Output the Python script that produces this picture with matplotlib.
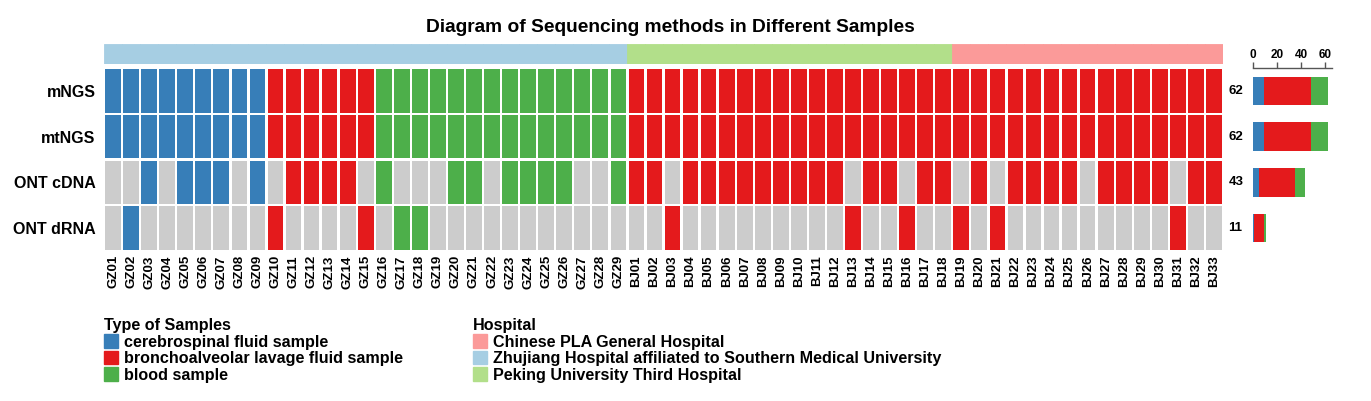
import numpy as np
import matplotlib.pyplot as plt
from matplotlib.patches import Patch

plt.rcParams['font.family'] = ['Liberation Sans', 'DejaVu Sans']
plt.rcParams['font.weight'] = 'bold'

# ---- data ----
samples = [f'GZ{i:02d}' for i in range(1, 30)] + [f'BJ{i:02d}' for i in range(1, 34)]
sample_type = ['csf'] * 9 + ['balf'] * 6 + ['blood'] * 14 + ['balf'] * 33
hospital = ['zhujiang'] * 29 + ['peking'] * 18 + ['pla'] * 15

methods = ['mNGS', 'mtNGS', 'ONT cDNA', 'ONT dRNA']
mngs = [1] * 62
mtngs = [1] * 62
ont_cdna = [0, 0, 1, 0, 1, 1, 1, 0, 1, 0, 1, 1, 1, 1, 0, 1, 0, 0, 0, 1,
            1, 0, 1, 1, 1, 1, 0, 0, 1,
            1, 1, 0, 1, 1, 1, 1, 1, 1, 1, 1, 1, 0, 1, 1, 0, 1, 1, 0, 1,
            0, 1, 1, 1, 1, 0, 1, 1, 1, 1, 0, 1, 1]
ont_drna = [0, 1, 0, 0, 0, 0, 0, 0, 0, 1, 0, 0, 0, 0, 1, 0, 1, 1, 0, 0,
            0, 0, 0, 0, 0, 0, 0, 0, 0,
            0, 0, 1, 0, 0, 0, 0, 0, 0, 0, 0, 0, 1, 0, 0, 1, 0, 0, 1, 0,
            1, 0, 0, 0, 0, 0, 0, 0, 0, 0, 1, 0, 0]
presence = [mngs, mtngs, ont_cdna, ont_drna]

type_order = ['csf', 'balf', 'blood']
type_labels = ['cerebrospinal fluid sample', 'bronchoalveolar lavage fluid sample', 'blood sample']
type_colors = {'csf': '#377EB8', 'balf': '#E41A1C', 'blood': '#4DAF4A'}
hosp_order = ['pla', 'zhujiang', 'peking']
hosp_labels = ['Chinese PLA General Hospital',
               'Zhujiang Hospital affiliated to Southern Medical University',
               'Peking University Third Hospital']
hosp_colors = {'pla': '#FB9A99', 'zhujiang': '#A6CEE3', 'peking': '#B2DF8A'}
absent = '#CCCCCC'

W, H = 1371, 401
fig = plt.figure(figsize=(W / 100, H / 100), dpi=100)

def box(l, t, r, b):
    return [l / W, 1 - b / H, (r - l) / W, (b - t) / H]

ax_h = fig.add_axes(box(104, 44, 1223, 64))
ax = fig.add_axes(box(104, 68, 1223, 251))
ax_b = fig.add_axes(box(1253, 68, 1332, 251))

x = np.arange(len(samples))

# hospital band
ax_h.bar(x, 1, width=1.0, bottom=0, color=[hosp_colors[h] for h in hospital],
         edgecolor=[hosp_colors[h] for h in hospital], linewidth=0.6)
ax_h.set_xlim(-0.5, len(samples) - 0.5)
ax_h.set_ylim(0, 1)
ax_h.axis('off')

# main grid
for r, row in enumerate(presence):
    cols = [type_colors[t] if p else absent for t, p in zip(sample_type, row)]
    ax.bar(x, 0.955, width=0.87, bottom=r - 0.4775, color=cols, linewidth=0)
    ax.text(len(samples) - 0.5 + 0.3, r, str(sum(row)), ha='left', va='center',
            fontsize=9.5, fontweight='bold')
ax.set_xlim(-0.5, len(samples) - 0.5)
ax.set_ylim(len(methods) - 0.5, -0.5)
ax.set_xticks(x)
ax.set_xticklabels(samples, rotation=90, fontsize=9.5, fontweight='bold')
ax.set_yticks(range(len(methods)))
ax.set_yticklabels(methods, fontsize=11.5, fontweight='bold')
ax.tick_params(length=0, pad=6)
ax.tick_params(axis='x', pad=3)
for s in ax.spines.values():
    s.set_visible(False)

# side barplot
left = np.zeros(len(methods))
for t in type_order:
    vals = np.array([sum(p for p, st in zip(row, sample_type) if st == t) for row in presence])
    ax_b.barh(range(len(methods)), vals, left=left, height=0.62, color=type_colors[t], linewidth=0)
    left += vals
ax_b.set_xlim(0, 65.5)
ax_b.set_ylim(len(methods) - 0.5, -0.5)
ax_b.xaxis.tick_top()
ax_b.set_xticks([0, 20, 40, 60])
ax_b.tick_params(axis='x', labelsize=8.5, length=4, width=1, color='#555555', pad=1)
ax_b.set_yticks([])
for k in ['left', 'right', 'bottom']:
    ax_b.spines[k].set_visible(False)
ax_b.spines['top'].set_color('#555555')
ax_b.spines['top'].set_linewidth(1)

fig.text(670 / W, 1 - 28 / H, 'Diagram of Sequencing methods in Different Samples',
         ha='center', va='center', fontsize=13.8, fontweight='bold')

# legends
lkw = dict(loc='upper left', frameon=False, handlelength=0.87, handleheight=0.9,
           handletextpad=0.4, labelspacing=0.08, borderpad=0, borderaxespad=0,
           fontsize=11.6, alignment='left', title_fontproperties={'weight': 'bold', 'size': 11.6})
fig.legend(handles=[Patch(color=type_colors[t], label=l) for t, l in zip(type_order, type_labels)],
           title='Type of Samples', bbox_to_anchor=(104 / W, 1 - 318 / H), **lkw)
fig.legend(handles=[Patch(color=hosp_colors[h], label=l) for h, l in zip(hosp_order, hosp_labels)],
           title='Hospital', bbox_to_anchor=(473 / W, 1 - 318 / H), **lkw)

fig.savefig('out.png', dpi=100)
